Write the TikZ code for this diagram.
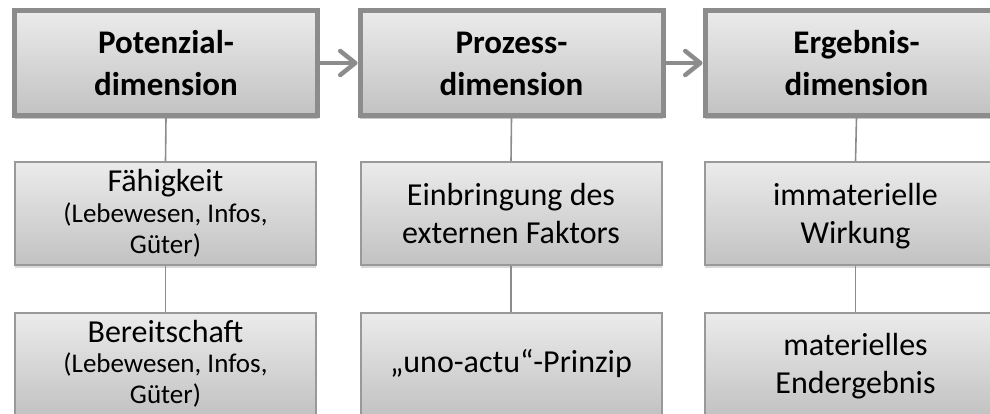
\documentclass[tikz,border=0pt]{standalone}
\usepackage{fontspec}
\setmainfont{Carlito}
\usetikzlibrary{arrows.meta,shadows}
\definecolor{bordergray}{HTML}{8C8C8C}
\definecolor{thingray}{HTML}{999999}
\definecolor{filltop}{HTML}{EBEBEB}
\definecolor{fillbot}{HTML}{C2C2C2}
\begin{document}
\begin{tikzpicture}[x=1pt,y=-1pt,
  dimbox/.style={draw=bordergray, line width=5pt, top color=filltop, bottom color=fillbot,
    minimum width=303pt, minimum height=105pt, inner sep=0pt,
    drop shadow={shadow xshift=0pt, shadow yshift=-4pt, opacity=0.35, fill=black!60}},
  itembox/.style={draw=thingray, line width=2pt, top color=filltop, bottom color=fillbot,
    minimum width=301pt, minimum height=103pt, inner sep=0pt,
    drop shadow={shadow xshift=0pt, shadow yshift=-2.5pt, opacity=0.3, fill=black!50}},
  dimtxt/.style={anchor=base, inner sep=0pt, align=center, font=\fontsize{33}{42}\selectfont\bfseries},
  itemtxt/.style={anchor=base, inner sep=0pt, align=center, font=\fontsize{32}{38}\selectfont},
  smalltxt/.style={anchor=base, inner sep=0pt, align=center, font=\fontsize{27}{31}\selectfont},
  conn/.style={draw=bordergray, line width=1.6pt},
  flow/.style={draw=bordergray, line width=4.5pt, -{Straight Barb[length=15pt,width=24pt,round]}}]
\useasboundingbox (0,0) rectangle (990,414);
\clip (0,0) rectangle (990,414);
% boxes
\node[dimbox] (p1) at (166,63) {};
\node[dimbox] (p2) at (511.5,63) {};
\node[dimbox] (p3) at (856.5,63) {};
\node[itembox] (f1) at (165.5,213.5) {};
\node[itembox] (f2) at (511,213.5) {};
\node[itembox] (f3) at (855.5,213.5) {};
\node[itembox] (b1) at (165.5,364.5) {};
\node[itembox] (b2) at (511,364.5) {};
\node[itembox] (b3) at (855.5,364.5) {};
% texts (anchor base = baseline of the last line)
\node[dimtxt] (p1t) at (166,96) {Potenzial-\\dimension};
\node[dimtxt] (p2t) at (511.5,96) {Prozess-\\dimension};
\node[dimtxt] (p3t) at (856.5,96) {Ergebnis-\\dimension};
\node[itemtxt] (f1t) at (165.5,192) {Fähigkeit};
\node[smalltxt] (f1s) at (165.5,253) {(Lebewesen, Infos,\\Güter)};
\node[itemtxt] (f2t) at (511,243) {Einbringung des\\externen Faktors};
\node[itemtxt] (f3t) at (855.5,243) {immaterielle\\Wirkung};
\node[itemtxt] (b1t) at (165.5,342) {Bereitschaft};
\node[smalltxt] (b1s) at (165.5,403) {(Lebewesen, Infos,\\Güter)};
\node[itemtxt] (b2t) at (511,372) {„uno-actu“-Prinzip};
\node[itemtxt] (b3t) at (855.5,393) {materielles\\Endergebnis};
% connectors
\draw[conn] (p1.south) -- (f1.north);
\draw[conn] (f1.south) -- (b1.north);
\draw[conn] (p2.south) -- (f2.north);
\draw[conn] (f2.south) -- (b2.north);
\draw[conn] (p3.south) -- (f3.north);
\draw[conn] (f3.south) -- (b3.north);
% flow arrows
\draw[flow] (p1.east) -- (p2.west);
\draw[flow] (p2.east) -- (p3.west);
\end{tikzpicture}
\end{document}
